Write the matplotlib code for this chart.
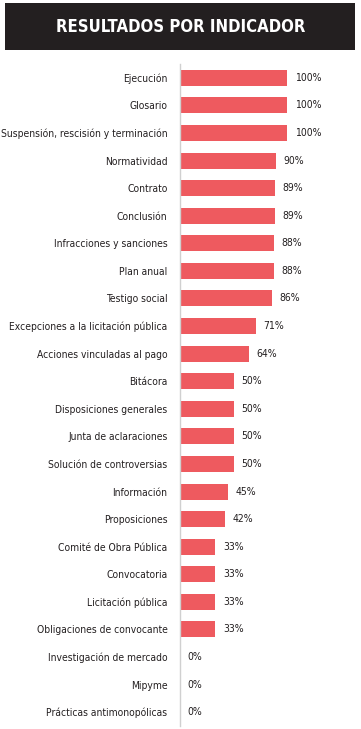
import matplotlib
matplotlib.use('Agg')
import matplotlib.pyplot as plt
from matplotlib.patches import Rectangle

## data
indicadores = ['Ejecución', 'Glosario', 'Suspensión, rescisión y terminación',
               'Normatividad', 'Contrato', 'Conclusión', 'Infracciones y sanciones',
               'Plan anual', 'Testigo social', 'Excepciones a la licitación pública',
               'Acciones vinculadas al pago', 'Bitácora', 'Disposiciones generales',
               'Junta de aclaraciones', 'Solución de controversias', 'Información',
               'Proposiciones', 'Comité de Obra Pública', 'Convocatoria',
               'Licitación pública', 'Obligaciones de convocante',
               'Investigación de mercado', 'Mipyme', 'Prácticas antimonopólicas']
porcentajes = [100, 100, 100, 90, 89, 89, 88, 88, 86, 71, 64, 50, 50, 50, 50,
               45, 42, 33, 33, 33, 33, 0, 0, 0]

BAR_COLOR = '#ee5a5f'
FONT = ['DejaVu Sans Condensed', 'DejaVu Sans']

fig = plt.figure(figsize=(3.61, 7.29), dpi=100)

# title banner
fig.patches.append(Rectangle((5 / 361, 1 - 50 / 729), 350 / 361, 47 / 729,
                             transform=fig.transFigure, facecolor='#231f20',
                             edgecolor='none', zorder=0))
fig.text(0.5, 1 - 27 / 729, 'RESULTADOS POR INDICADOR', color='white',
         fontsize=12, fontweight='bold', family=FONT, stretch='condensed',
         ha='center', va='center')

ax = fig.add_axes([180 / 361, 1 - 726 / 729, 175 / 361, 662 / 729])
pos = list(range(len(indicadores)))
ax.barh(pos, porcentajes, height=0.58, color=BAR_COLOR)
for y, v in zip(pos, porcentajes):
    ax.text(v + 7, y, '%d%%' % v, va='center', ha='left', fontsize=7.5,
            family=FONT, stretch='condensed', color='#231f20')

ax.set_xlim(0, 163.5)
ax.set_ylim(len(indicadores) - 0.5, -0.5)
ax.set_yticks(pos)
ax.set_yticklabels(indicadores, family=FONT, stretch='condensed',
                   fontsize=7.4, color='#231f20')
ax.tick_params(axis='y', length=0, pad=9)
ax.set_xticks([])
for s in ['top', 'right', 'bottom']:
    ax.spines[s].set_visible(False)
ax.spines['left'].set_color('#d0d0d0')
ax.spines['left'].set_linewidth(1)

fig.savefig('out.png', dpi=100)
